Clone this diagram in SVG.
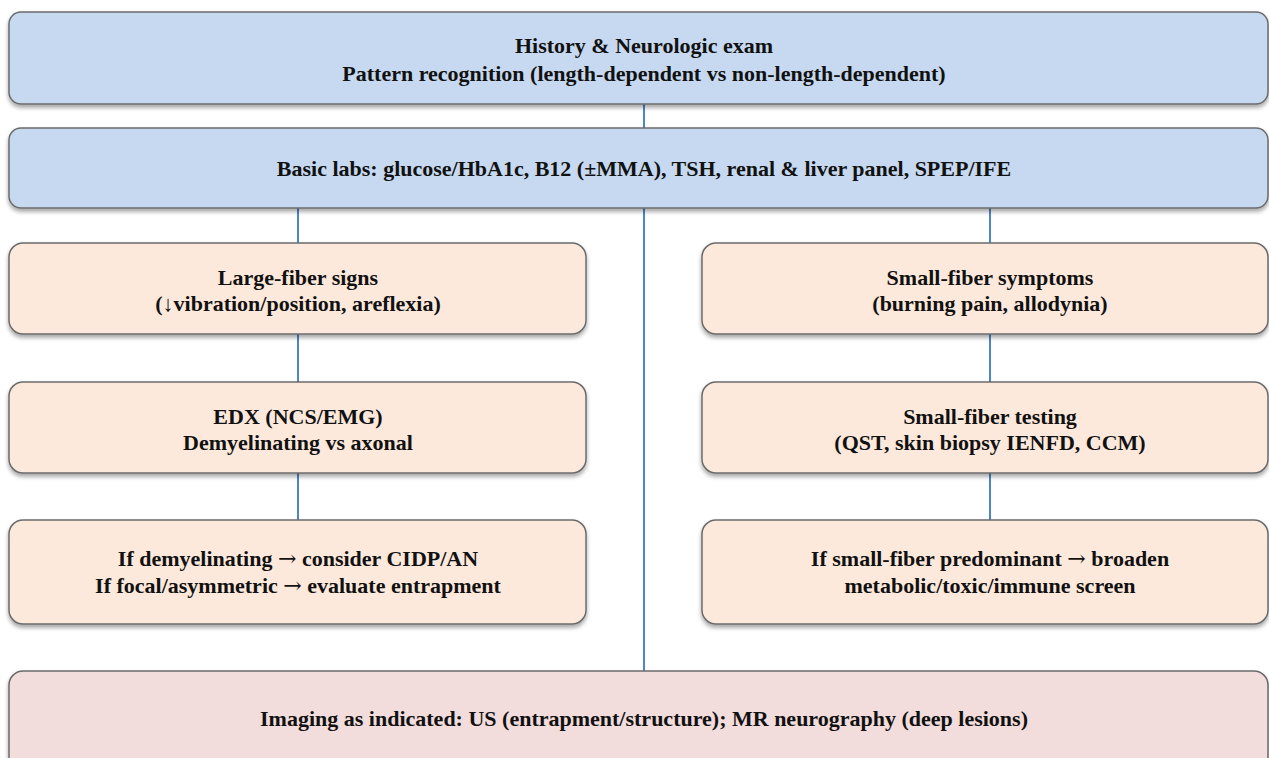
<svg xmlns="http://www.w3.org/2000/svg" width="1269" height="758" viewBox="0 0 1269 758">
<defs>
<filter id="sh" x="-5%" y="-20%" width="110%" height="150%">
<feDropShadow dx="0" dy="3" stdDeviation="2" flood-color="#000" flood-opacity="0.35"/>
</filter>
<style>
.box{stroke:#6b6b6b;stroke-width:1.5;filter:url(#sh)}
.blue{fill:#c6d9f0}
.peach{fill:#fde9dc}
.pink{fill:#f2dcdc}
text{font-family:"Liberation Serif","Times New Roman",serif;font-weight:bold;font-size:22px;fill:#111;text-anchor:middle}
.ar{font-family:"DejaVu Serif","DejaVu Sans",serif;font-weight:normal}
.conn line{stroke:#4a86c8;stroke-width:2}
</style>
</defs>
<rect width="1269" height="758" fill="#fff"/>
<g class="conn" id="connectors">
<line x1="644" y1="104" x2="644" y2="128"/>
<line x1="644" y1="208" x2="644" y2="671"/>
<line x1="298" y1="208" x2="298" y2="243"/>
<line x1="298" y1="334" x2="298" y2="382"/>
<line x1="298" y1="473" x2="298" y2="520"/>
<line x1="990" y1="208" x2="990" y2="243"/>
<line x1="990" y1="334" x2="990" y2="382"/>
<line x1="990" y1="473" x2="990" y2="520"/>
</g>
<g id="history">
<rect class="box blue" x="9" y="12" width="1259" height="92" rx="12"/>
<text x="644" y="53">History &amp; Neurologic exam</text>
<text x="644" y="81">Pattern recognition (length-dependent vs non-length-dependent)</text>
</g>
<g id="labs">
<rect class="box blue" x="9" y="128" width="1259" height="80" rx="12"/>
<text x="644" y="176">Basic labs: glucose/HbA1c, B12 (±MMA), TSH, renal &amp; liver panel, SPEP/IFE</text>
</g>
<g id="large">
<rect class="box peach" x="9" y="243" width="577" height="91" rx="14"/>
<text x="298" y="285">Large-fiber signs</text>
<text x="298" y="311">(↓vibration/position, areflexia)</text>
</g>
<g id="edx">
<rect class="box peach" x="9" y="382" width="577" height="91" rx="14"/>
<text x="298" y="424">EDX (NCS/EMG)</text>
<text x="298" y="450">Demyelinating vs axonal</text>
</g>
<g id="demyel">
<rect class="box peach" x="9" y="520" width="577" height="104" rx="14"/>
<text x="298" y="566">If demyelinating <tspan class="ar">→</tspan> consider CIDP/AN</text>
<text x="298" y="593">If focal/asymmetric <tspan class="ar">→</tspan> evaluate entrapment</text>
</g>
<g id="small">
<rect class="box peach" x="702" y="243" width="566" height="91" rx="14"/>
<text x="990" y="285">Small-fiber symptoms</text>
<text x="990" y="311">(burning pain, allodynia)</text>
</g>
<g id="sftest">
<rect class="box peach" x="702" y="382" width="566" height="91" rx="14"/>
<text x="990" y="424">Small-fiber testing</text>
<text x="990" y="450">(QST, skin biopsy IENFD, CCM)</text>
</g>
<g id="sfpred">
<rect class="box peach" x="702" y="520" width="566" height="104" rx="14"/>
<text x="990" y="566">If small-fiber predominant <tspan class="ar">→</tspan> broaden</text>
<text x="990" y="593">metabolic/toxic/immune screen</text>
</g>
<g id="imaging">
<rect class="box pink" x="9" y="671" width="1259" height="100" rx="14"/>
<text x="644" y="726">Imaging as indicated: US (entrapment/structure); MR neurography (deep lesions)</text>
</g>
</svg>
